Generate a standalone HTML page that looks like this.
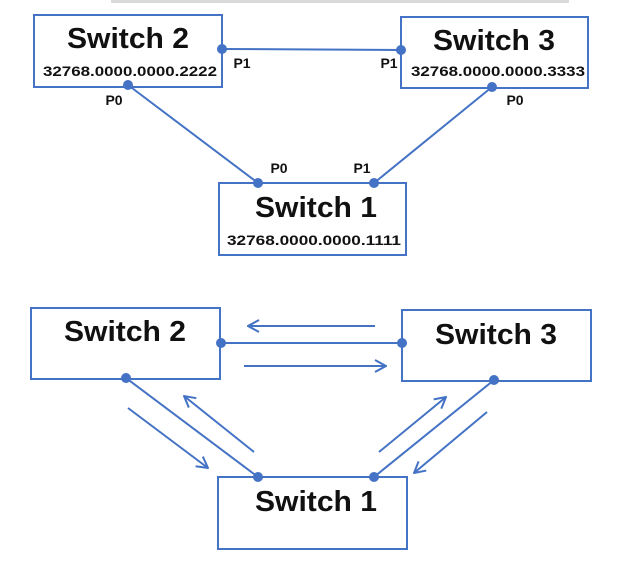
<!DOCTYPE html>
<html><head><style>body{margin:0;background:#fff}svg{display:block}</style></head>
<body>
<svg width="632" height="566" viewBox="0 0 632 566" xmlns="http://www.w3.org/2000/svg" font-family="'Liberation Sans', sans-serif" font-weight="bold">
<defs>
<marker id="ah" viewBox="0 0 14 14" refX="13" refY="7" markerWidth="14" markerHeight="14" markerUnits="userSpaceOnUse" orient="auto">
<path d="M2,1 L13,7 L2,13" fill="none" stroke="#4472C4" stroke-width="2"/>
</marker>
</defs>
<rect x="111" y="0" width="458" height="3" fill="#d9d9d9"/>
<g stroke="#4472C4" stroke-width="2" fill="none">
<rect x="34" y="15" width="188" height="72" fill="#fff"/>
<rect x="401" y="17" width="187" height="71" fill="#fff"/>
<rect x="219" y="183" width="187" height="72" fill="#fff"/>
<line x1="222" y1="49" x2="401" y2="50"/>
<line x1="128" y1="85" x2="258" y2="183"/>
<line x1="492" y1="87" x2="374" y2="183"/>
</g>
<g fill="#4472C4">
<circle cx="222" cy="49" r="5"/><circle cx="401" cy="50" r="5"/>
<circle cx="128" cy="85" r="5"/><circle cx="492" cy="87" r="5"/>
<circle cx="258" cy="183" r="5"/><circle cx="374" cy="183" r="5"/>
</g>
<g fill="#111" text-anchor="middle">
<text x="128" y="48" font-size="29" textLength="122" lengthAdjust="spacingAndGlyphs">Switch 2</text>
<text x="494" y="50" font-size="29" textLength="122" lengthAdjust="spacingAndGlyphs">Switch 3</text>
<text x="316" y="217" font-size="29" textLength="122" lengthAdjust="spacingAndGlyphs">Switch 1</text>
<text x="130" y="76" font-size="14" textLength="174" lengthAdjust="spacingAndGlyphs">32768.0000.0000.2222</text>
<text x="498" y="76" font-size="14" textLength="174" lengthAdjust="spacingAndGlyphs">32768.0000.0000.3333</text>
<text x="314" y="245" font-size="14" textLength="174" lengthAdjust="spacingAndGlyphs">32768.0000.0000.1111</text>
<text x="242" y="68" font-size="14">P1</text>
<text x="389" y="68" font-size="14">P1</text>
<text x="114" y="105" font-size="14">P0</text>
<text x="515" y="105" font-size="14">P0</text>
<text x="279" y="173" font-size="14">P0</text>
<text x="362" y="173" font-size="14">P1</text>
</g>
<g stroke="#4472C4" stroke-width="2" fill="none">
<rect x="31" y="308" width="189" height="71" fill="#fff"/>
<rect x="402" y="310" width="189" height="71" fill="#fff"/>
<rect x="218" y="477" width="189" height="72" fill="#fff"/>
<line x1="221" y1="343" x2="402" y2="343"/>
<line x1="126" y1="378" x2="258" y2="477"/>
<line x1="494" y1="380" x2="374" y2="477"/>
<line x1="375" y1="326" x2="248" y2="326" marker-end="url(#ah)"/>
<line x1="244" y1="366" x2="386" y2="366" marker-end="url(#ah)"/>
<line x1="128" y1="408" x2="208" y2="468" marker-end="url(#ah)"/>
<line x1="254" y1="452" x2="184" y2="396" marker-end="url(#ah)"/>
<line x1="379" y1="452" x2="446" y2="397" marker-end="url(#ah)"/>
<line x1="487" y1="412" x2="414" y2="473" marker-end="url(#ah)"/>
</g>
<g fill="#4472C4">
<circle cx="221" cy="343" r="5"/><circle cx="402" cy="343" r="5"/>
<circle cx="126" cy="378" r="5"/><circle cx="494" cy="380" r="5"/>
<circle cx="258" cy="477" r="5"/><circle cx="374" cy="477" r="5"/>
</g>
<g fill="#111" text-anchor="middle">
<text x="125" y="341" font-size="29" textLength="122" lengthAdjust="spacingAndGlyphs">Switch 2</text>
<text x="496" y="344" font-size="29" textLength="122" lengthAdjust="spacingAndGlyphs">Switch 3</text>
<text x="316" y="511" font-size="29" textLength="122" lengthAdjust="spacingAndGlyphs">Switch 1</text>
</g>
</svg>
</body></html>
